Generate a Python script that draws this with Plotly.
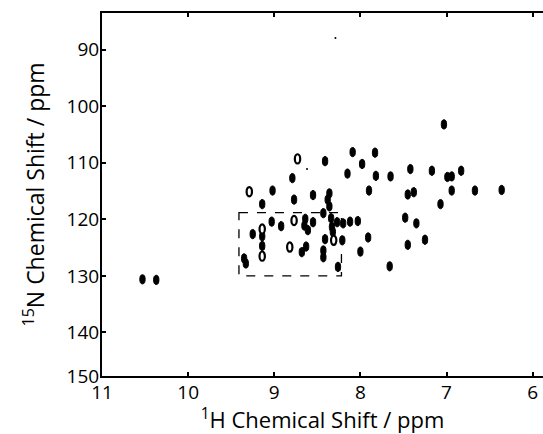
import plotly.graph_objects as go

# Peak positions (1H ppm, 15N ppm)
h_shift = [7.03, 8.09, 7.83, 8.41, 7.98, 8.15, 7.82, 7.65, 7.42, 7.17,
           6.99, 6.94, 6.83, 7.90, 7.45, 7.38, 6.94, 6.67, 6.36, 7.07,
           8.55, 8.36, 8.38, 8.36, 8.79, 9.02, 9.14, 8.77, 8.43, 8.64,
           8.65, 8.55, 8.34, 8.33, 8.27, 8.20, 8.12, 8.03, 8.32, 7.48,
           7.35, 7.91, 7.25, 7.45, 8.41, 8.21, 8.00, 8.63, 8.68, 8.43,
           8.43, 8.26, 7.66, 9.14, 9.14, 9.25, 9.03, 8.92, 9.35, 9.33,
           10.53, 10.37, 8.61]
n_shift = [103.2, 108.1, 108.2, 109.7, 110.2, 111.9, 112.3, 112.4, 111.1, 111.4,
           112.5, 112.4, 111.4, 114.9, 115.6, 115.2, 114.9, 114.9, 114.8, 117.3,
           115.7, 115.4, 116.5, 117.7, 112.7, 114.9, 117.3, 116.5, 118.9, 119.9,
           121.1, 120.5, 119.8, 121.3, 120.5, 120.7, 120.4, 120.3, 122.2, 119.7,
           120.7, 123.2, 123.6, 124.5, 123.5, 123.7, 125.7, 124.8, 125.8, 125.5,
           126.7, 128.4, 128.3, 123.0, 124.7, 122.6, 120.4, 121.2, 126.9, 127.8,
           130.6, 130.7, 121.9]

# Peaks drawn as open contour rings
h_open = [8.73, 9.29, 8.31, 9.14, 9.14, 8.77, 8.82]
n_open = [109.3, 115.1, 123.7, 121.7, 126.5, 120.2, 124.9]

# Tiny noise dots
h_dot = [8.29, 8.62]
n_dot = [87.9, 111.1]

# Highlighted region
box_h = [9.41, 8.22]
box_n = [118.8, 130.0]

x_ticks = [11, 10, 9, 8, 7, 6]
y_ticks = [90, 100, 110, 120, 130, 140, 150]
x_range = [11, 5.88]
y_range = [147.7, 83.5]

RX, RY = 0.031, 0.82

shapes = []
for h, n in zip(h_shift, n_shift):
    shapes.append(dict(type="circle", xref="x", yref="y",
                       x0=h - RX, x1=h + RX, y0=n - RY, y1=n + RY,
                       fillcolor="black", line=dict(color="black", width=1)))
for h, n in zip(h_open, n_open):
    shapes.append(dict(type="circle", xref="x", yref="y",
                       x0=h - RX, x1=h + RX, y0=n - RY, y1=n + RY,
                       fillcolor="white", line=dict(color="black", width=2.2)))
shapes.append(dict(type="rect", xref="x", yref="y",
                   x0=box_h[0], x1=box_h[1], y0=box_n[0], y1=box_n[1],
                   line=dict(color="black", width=1.3, dash="dash")))

fig = go.Figure()
fig.add_trace(go.Scatter(x=h_dot, y=n_dot, mode="markers",
                         marker=dict(color="black", size=2), showlegend=False,
                         hoverinfo="skip"))

font = "Open Sans, Noto Sans, sans-serif"
ytickvals = y_ticks[:-1] + [y_range[0]]
fig.update_layout(
    width=543, height=434,
    margin=dict(l=102, r=0, t=13, b=58),
    plot_bgcolor="white", paper_bgcolor="white",
    shapes=shapes,
    showlegend=False,
    font=dict(family=font, color="black", size=19),
)
fig.update_xaxes(range=x_range, tickvals=x_ticks, ticktext=[str(v) for v in x_ticks],
                 ticks="inside", ticklen=4, tickwidth=1.5, tickcolor="black",
                 showline=True, linewidth=2, linecolor="black", mirror="ticks",
                 showgrid=False, zeroline=False,
                 tickfont=dict(size=19, family=font), ticklabelstandoff=-2,
                 title=dict(text="<sup>1</sup>H Chemical Shift / ppm",
                            font=dict(size=22, family=font), standoff=13))
fig.update_yaxes(range=y_range, tickvals=ytickvals, ticktext=[str(v) for v in y_ticks],
                 ticks="inside", ticklen=4, tickwidth=1.5, tickcolor="black",
                 showline=True, linewidth=2, linecolor="black",
                 showgrid=False, zeroline=False,
                 tickfont=dict(size=19, family=font), ticklabelstandoff=-3,
                 title=dict(text="<sup>15</sup>N Chemical Shift / ppm",
                            font=dict(size=23, family=font), standoff=16))

fig.write_html("out.html")
